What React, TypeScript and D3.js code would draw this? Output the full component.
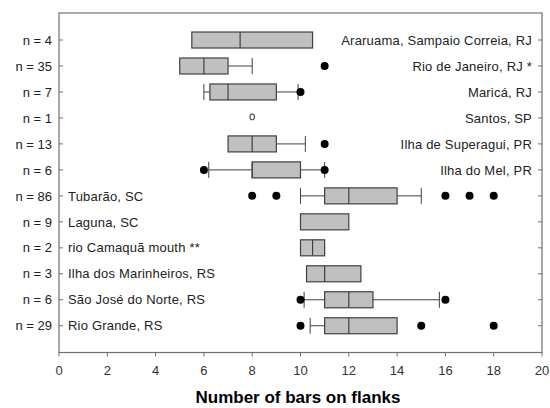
import React, { useEffect, useRef } from "react";
import * as d3 from "d3";

// sample sizes and site names, top to bottom
const sizes = ["n = 4", "n = 35", "n = 7", "n = 1", "n = 13", "n = 6", "n = 86", "n = 9", "n = 2", "n = 3", "n = 6", "n = 29"];
const sites = [
  "Araruama, Sampaio Correia, RJ",
  "Rio de Janeiro, RJ *",
  "Maricá, RJ",
  "Santos, SP",
  "Ilha de Superagui, PR",
  "Ilha do Mel, PR",
  "Tubarão, SC",
  "Laguna, SC",
  "rio Camaquã mouth **",
  "Ilha dos Marinheiros, RS",
  "São José do Norte, RS",
  "Rio Grande, RS",
];
// box statistics (null = not drawn)
const q1 = [5.5, 5, 6.25, null, 7, 8, 11, 10, 10, 10.25, 11, 11];
const median = [7.5, 6, 7, 8, 8, 8, 12, null, 10.5, 11, 12, 12];
const q3 = [10.5, 7, 9, null, 9, 10, 14, 12, 11, 12.5, 13, 14];
const whiskerLo = [null, null, 6, null, null, 6.2, 10, null, null, null, 10.15, 10.4];
const whiskerHi = [null, 8, 9.9, null, 10.2, 11, 15, null, null, null, 15.75, null];
const outliers = [[], [11], [10], [], [11], [6, 11], [8, 9, 16, 17, 18], [], [], [], [10, 16], [10, 15, 18]];
const xTicks = [0, 2, 4, 6, 8, 10, 12, 14, 16, 18, 20];

const App = () => {
  const svgRef = useRef<SVGSVGElement>(null);

  useEffect(() => {
    const svg = d3.select(svgRef.current);
    svg.selectAll("*").remove();

    const left = 59, right = 542, top = 13, bottom = 352.5;
    const font = "Arial, 'Liberation Sans', sans-serif";

    const x = d3.scaleLinear().domain([0, 20]).range([left, right]);
    const y = d3.scaleLinear().domain([-1.04, 12.03]).range([top, bottom]);
    const boxH = 16;
    const frame = "#707070";
    const ink = "#404040";

    // frame
    svg.append("rect")
      .attr("x", left).attr("y", top)
      .attr("width", right - left).attr("height", bottom - top)
      .attr("fill", "none").attr("stroke", frame).attr("stroke-width", 1.2);

    // bottom axis
    const xAxis = svg.append("g");
    xAxis.selectAll("line").data(xTicks).enter().append("line")
      .attr("x1", (d) => x(d)).attr("x2", (d) => x(d))
      .attr("y1", bottom).attr("y2", bottom + 4)
      .attr("stroke", frame);
    xAxis.selectAll("text").data(xTicks).enter().append("text")
      .attr("x", (d) => x(d)).attr("y", 375)
      .attr("text-anchor", "middle")
      .style("font-family", font).style("font-size", "13px").attr("fill", "#333")
      .text((d) => d);

    // row ticks on both sides
    const rows = d3.range(sizes.length);
    svg.append("g").selectAll("line").data(rows).enter().append("line")
      .attr("x1", left).attr("x2", left + 4)
      .attr("y1", (i) => y(i)).attr("y2", (i) => y(i)).attr("stroke", frame);
    svg.append("g").selectAll("line").data(rows).enter().append("line")
      .attr("x1", right - 4).attr("x2", right)
      .attr("y1", (i) => y(i)).attr("y2", (i) => y(i)).attr("stroke", frame);

    // n labels
    svg.append("g").selectAll("text").data(rows).enter().append("text")
      .attr("x", 52).attr("y", (i) => y(i)).attr("dy", "0.36em")
      .attr("text-anchor", "end")
      .style("font-family", font).style("font-size", "13px").attr("fill", "#222")
      .text((i) => sizes[i]);

    // site labels: upper rows at right, lower rows at left
    svg.append("g").selectAll("text").data(rows).enter().append("text")
      .attr("x", (i) => (i < 6 ? 532 : 68)).attr("y", (i) => y(i)).attr("dy", "0.36em")
      .attr("text-anchor", (i) => (i < 6 ? "end" : "start"))
      .style("font-family", font).style("font-size", "13px").style("letter-spacing", "0.2px")
      .attr("fill", "#222")
      .text((i) => sites[i]);

    // boxes
    rows.forEach((i) => {
      const cy = y(i);
      const g = svg.append("g");
      const lo = whiskerLo[i], hi = whiskerHi[i], a = q1[i], b = q3[i], m = median[i];
      if (a != null && lo != null) {
        g.append("line").attr("x1", x(lo)).attr("x2", x(a)).attr("y1", cy).attr("y2", cy).attr("stroke", ink);
        g.append("line").attr("x1", x(lo)).attr("x2", x(lo)).attr("y1", cy - boxH / 2).attr("y2", cy + boxH / 2).attr("stroke", ink);
      }
      if (b != null && hi != null) {
        g.append("line").attr("x1", x(b)).attr("x2", x(hi)).attr("y1", cy).attr("y2", cy).attr("stroke", ink);
        g.append("line").attr("x1", x(hi)).attr("x2", x(hi)).attr("y1", cy - boxH / 2).attr("y2", cy + boxH / 2).attr("stroke", ink);
      }
      if (a != null && b != null) {
        g.append("rect")
          .attr("x", x(a)).attr("y", cy - boxH / 2)
          .attr("width", x(b) - x(a)).attr("height", boxH)
          .attr("fill", "#c0c0c0").attr("stroke", ink).attr("stroke-width", 1.2);
        if (m != null) {
          g.append("line").attr("x1", x(m)).attr("x2", x(m))
            .attr("y1", cy - boxH / 2).attr("y2", cy + boxH / 2)
            .attr("stroke", ink).attr("stroke-width", 1.2);
        }
      } else if (m != null) {
        // single observation
        g.append("ellipse").attr("cx", x(m)).attr("cy", cy - 1)
          .attr("rx", 2.2).attr("ry", 2.8)
          .attr("fill", "none").attr("stroke", "#555").attr("stroke-width", 1.2);
      }
      g.selectAll("circle").data(outliers[i]).enter().append("circle")
        .attr("cx", (d) => x(d)).attr("cy", cy).attr("r", 4).attr("fill", "#000");
    });

    // axis title
    svg.append("text")
      .attr("x", 298).attr("y", 403)
      .attr("text-anchor", "middle")
      .style("font-family", font).style("font-size", "17px").style("font-weight", "bold")
      .attr("fill", "#000")
      .text("Number of bars on flanks");
  }, []);

  return (
    <svg
      ref={svgRef}
      width={550}
      height={408}
      style={{ position: "absolute", left: 0, top: 0, background: "#fff" }}
    ></svg>
  );
};

export default App;
